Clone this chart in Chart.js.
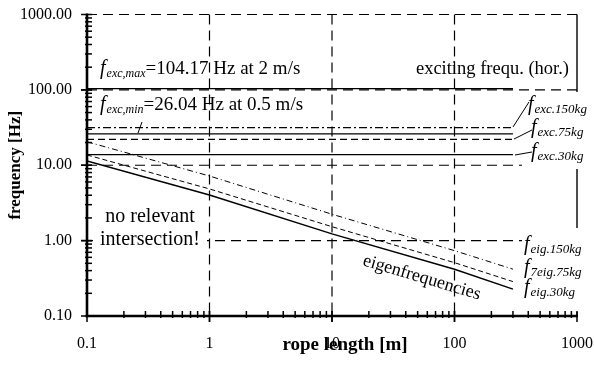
<!DOCTYPE html>
<html>
<head>
<meta charset="utf-8">
<style>
  html, body { margin: 0; padding: 0; background: #fff; }
  #chart { display: block; }
</style>
</head>
<body>
<canvas id="chart" width="594" height="365"></canvas>
<script src="https://cdn.jsdelivr.net/npm/chart.js"></script>
<script>
// rope length [m] sample points of the eigenfrequency curves
const lengths = [0.1, 1, 10, 100, 300];
const eig30 = [11.4, 4.04, 1.23, 0.418, 0.227];
const eig75 = [13.7, 4.85, 1.53, 0.51, 0.286];
const eig150 = [20.5, 7.2, 2.24, 0.736, 0.418];

// exciting frequencies (horizontal lines), from 0.1 m to 300 m
const excRange = [0.1, 300];
const excMax = [104.17, 104.17];
const excMin = [26.04, 26.04];
const exc150 = [31.5, 31.5];
const exc75 = [22.1, 22.1];
const exc30 = [13.8, 13.8];

const xTicks = [0.1, 1, 10, 100, 1000];
const xLabels = ['0.1', '1', '10', '100', '1000'];
const yTicks = [0.1, 1, 10, 100, 1000];
const yLabels = ['0.10', '1.00', '10.00', '100.00', '1000.00'];

const SERIF = '"Liberation Serif", "Times New Roman", serif';

function pts(xs, ys) {
    return xs.map((x, i) => ({x: x, y: ys[i]}));
}

function line(data, width, dash) {
    return {
        data: data,
        borderColor: '#000',
        borderWidth: width,
        borderDash: dash || [],
        pointRadius: 0,
        fill: false,
        tension: 0
    };
}

// italic f with subscript, optional normal text after
function fLabel(ctx, x, y, sub, subSize, rest, restSize) {
    ctx.font = 'italic 20px ' + SERIF;
    ctx.fillText('f', x, y);
    let w = ctx.measureText('f').width + 1;
    ctx.font = 'italic ' + subSize + 'px ' + SERIF;
    ctx.fillText(sub, x + w, y + 3);
    w += ctx.measureText(sub).width;
    if (rest) {
        ctx.font = restSize + 'px ' + SERIF;
        ctx.fillText(rest, x + w, y);
    }
}

function seg(ctx, x1, y1, x2, y2) {
    ctx.beginPath();
    ctx.moveTo(x1, y1);
    ctx.lineTo(x2, y2);
    ctx.stroke();
}

const decor = {
    id: 'decor',
    beforeDatasetsDraw(chart) {
        const {ctx, chartArea: a, scales: {x, y}} = chart;
        ctx.save();
        ctx.strokeStyle = '#000';
        ctx.lineWidth = 1.2;
        ctx.setLineDash([10, 6]);
        [1, 10, 100, 1000].forEach(v => {
            const py = y.getPixelForValue(v);
            seg(ctx, a.left, py, a.right, py);
        });
        [1, 10, 100].forEach(v => {
            const px = x.getPixelForValue(v);
            seg(ctx, px, a.top, px, a.bottom);
        });
        ctx.setLineDash([]);
        ctx.lineWidth = 1.4;
        seg(ctx, a.right, a.top, a.right, a.bottom);
        ctx.restore();
    },
    afterDatasetsDraw(chart) {
        const {ctx, chartArea: a, scales: {x, y}} = chart;
        ctx.save();
        // label backgrounds
        ctx.fillStyle = '#fff';
        ctx.fillRect(522, 92, 72, 77);
        ctx.fillRect(522, 228, 72, 84);
        ctx.fillRect(93, 204, 114, 48);

        ctx.fillStyle = '#000';
        ctx.strokeStyle = '#000';
        ctx.textBaseline = 'alphabetic';
        ctx.textAlign = 'left';

        fLabel(ctx, 100, 74, 'exc,max', 12, '=104.17 Hz at 2 m/s', 19);
        fLabel(ctx, 100, 110, 'exc,min', 12, '=26.04 Hz at 0.5 m/s', 19);

        ctx.font = '18.5px ' + SERIF;
        ctx.textAlign = 'right';
        ctx.fillText('exciting frequ. (hor.)', 569, 74);

        ctx.textAlign = 'center';
        ctx.font = '20px ' + SERIF;
        ctx.fillText('no relevant', 150, 222);
        ctx.fillText('intersection!', 150, 245);

        ctx.textAlign = 'left';
        fLabel(ctx, 528, 110, 'exc.150kg', 13);
        fLabel(ctx, 531, 133, 'exc.75kg', 13);
        fLabel(ctx, 531, 157, 'exc.30kg', 13);
        fLabel(ctx, 524, 250, 'eig.150kg', 13);
        fLabel(ctx, 524, 273, '7eig.75kg', 13);
        fLabel(ctx, 524, 293, 'eig.30kg', 13);

        // leader lines
        ctx.lineWidth = 1;
        seg(ctx, 138, 133, 142, 122);
        seg(ctx, 513, 127, 529, 102);
        seg(ctx, 514, 139, 532, 130);
        seg(ctx, 515, 155, 532, 152);

        // rotated curve label
        ctx.save();
        ctx.translate(362, 265);
        ctx.rotate(16.5 * Math.PI / 180);
        ctx.font = '18px ' + SERIF;
        ctx.fillText('eigenfrequencies', 0, 0);
        ctx.restore();

        // x axis title
        ctx.font = 'bold 19px ' + SERIF;
        ctx.textAlign = 'center';
        ctx.fillText('rope length [m]', 345, 350);

        // axes and ticks
        ctx.lineWidth = 1.5;
        for (let d = 0.1; d < 1000; d *= 10) {
            for (let m = 1; m <= 10; m++) {
                const v = d * m;
                const major = m === 1 || m === 10;
                const py = y.getPixelForValue(v);
                seg(ctx, major ? a.left - 6 : a.left - 2, py, a.left + 5, py);
                const px = x.getPixelForValue(v);
                seg(ctx, px, a.bottom - 5, px, major ? a.bottom + 6 : a.bottom + 2);
            }
        }
        ctx.lineWidth = 2.6;
        seg(ctx, a.left, a.top - 1, a.left, a.bottom + 1.3);
        seg(ctx, a.left - 1.3, a.bottom, a.right + 1, a.bottom);
        ctx.restore();
    }
};

new Chart(document.getElementById('chart'), {
    type: 'line',
    data: {
        datasets: [
            line(pts(excRange, excMax), 1.3),
            line(pts(excRange, exc150), 1.2, [8, 3, 2, 3]),
            line(pts(excRange, excMin), 1.3),
            line(pts(excRange, exc75), 1.2, [7, 4]),
            line(pts(excRange, exc30), 1.3),
            line(pts(lengths, eig150), 1, [6, 3, 1, 3]),
            line(pts(lengths, eig75), 1, [5, 3]),
            line(pts(lengths, eig30), 1.5)
        ]
    },
    options: {
        responsive: false,
        animation: false,
        devicePixelRatio: 1,
        layout: {padding: {top: 14.5, right: 17, left: 0, bottom: 0}},
        plugins: {legend: {display: false}, tooltip: {enabled: false}},
        scales: {
            x: {
                type: 'logarithmic',
                position: 'bottom',
                min: 0.1,
                max: 1000,
                grid: {display: false, drawTicks: false},
                border: {display: false},
                afterBuildTicks: s => { s.ticks = xTicks.map(v => ({value: v})); },
                afterFit: s => {
                    s.height = 49;
                    s.paddingLeft = 0;
                    s.paddingRight = 0;
                },
                ticks: {
                    autoSkip: false,
                    maxRotation: 0,
                    padding: 18,
                    color: '#000',
                    font: {family: SERIF, size: 16},
                    callback: (v, i) => xLabels[i]
                }
            },
            y: {
                type: 'logarithmic',
                position: 'left',
                min: 0.1,
                max: 1000,
                grid: {display: false, drawTicks: false},
                border: {display: false},
                afterBuildTicks: s => { s.ticks = yTicks.map(v => ({value: v})); },
                afterFit: s => {
                    s.width = 87;
                    s.paddingTop = 0;
                    s.paddingBottom = 0;
                },
                ticks: {
                    autoSkip: false,
                    padding: 15,
                    color: '#000',
                    font: {family: SERIF, size: 16},
                    callback: (v, i) => yLabels[i]
                },
                title: {
                    display: true,
                    text: 'frequency [Hz]',
                    color: '#000',
                    font: {family: SERIF, size: 17, weight: 'bold'},
                    padding: {top: 5, bottom: 0}
                }
            }
        }
    },
    plugins: [decor]
});
</script>
</body>
</html>
